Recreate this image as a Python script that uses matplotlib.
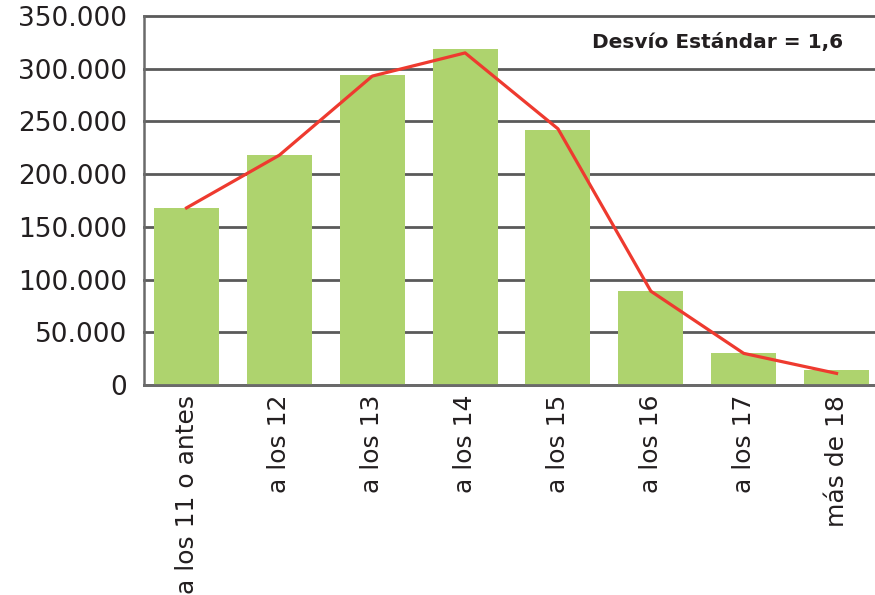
import matplotlib
matplotlib.use("Agg")
import matplotlib.pyplot as plt
import numpy as np

categories = ["a los 11 o antes", "a los 12", "a los 13", "a los 14",
              "a los 15", "a los 16", "a los 17", "más de 18"]
bar_values = [168000, 218000, 294000, 318500, 242000, 89000, 30000, 14500]
line_values = [168000, 218000, 293000, 315000, 243000, 89000, 30000, 11000]
y_ticks = [0, 50000, 100000, 150000, 200000, 250000, 300000, 350000]
y_labels = ["0", "50.000", "100.000", "150.000", "200.000", "250.000", "300.000", "350.000"]
note = "Desvío Estándar = 1,6"

text_color = "#231f20"
grid_color = "#5a5a5a"

fig = plt.figure(figsize=(8.75, 5.95), dpi=100)
ax = fig.add_axes([144 / 875, 210 / 595, 731 / 875, 369 / 595])

x = np.arange(len(categories))
ax.bar(x, bar_values, width=0.70, color="#aed36e", zorder=2)
ax.plot(x, line_values, color="#ee3a2f", linewidth=2.3, zorder=3)

ax.set_xlim(-0.458, 7.414)
ax.set_ylim(0, 350000)
ax.set_yticks(y_ticks)
ax.set_yticklabels(y_labels)
ax.set_xticks(x)
ax.set_xticklabels(categories, rotation=90, va="top", ha="center")

ax.tick_params(axis="y", length=0, pad=12, labelsize=19, labelcolor=text_color)
ax.tick_params(axis="x", length=0, pad=7, labelsize=18, labelcolor=text_color)

ax.yaxis.grid(True, color=grid_color, linewidth=2.0, zorder=1)
ax.set_axisbelow(True)
for gl in ax.get_ygridlines():
    gl.set_clip_on(False)

for side in ["top", "right"]:
    ax.spines[side].set_visible(False)
ax.spines["left"].set_color("#6a6a6a")
ax.spines["left"].set_linewidth(1.8)
ax.spines["bottom"].set_color("#6a6a6a")
ax.spines["bottom"].set_linewidth(2.0)

ax.text(0.613, 0.927, note, transform=ax.transAxes, fontsize=14.5,
        fontweight="semibold", color=text_color, ha="left", va="center")

fig.savefig("out.png", dpi=100)
